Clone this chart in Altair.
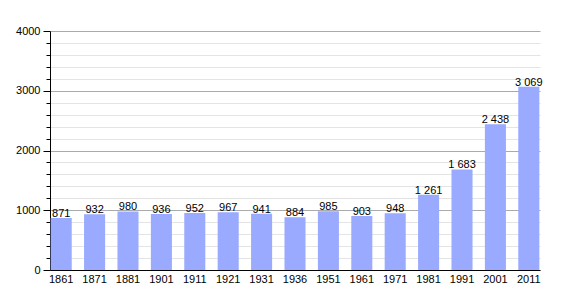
import altair as alt
import pandas as pd

years = ["1861", "1871", "1881", "1901", "1911", "1921", "1931", "1936",
         "1951", "1961", "1971", "1981", "1991", "2001", "2011"]
population = [871, 932, 980, 936, 952, 967, 941, 884, 985, 903, 948,
              1261, 1683, 2438, 3069]
tick_values = list(range(0, 4001, 200))

df = pd.DataFrame({"year": years, "pop": population})

font = "Liberation Sans"

x_enc = alt.X("year:N", sort=years, title=None,
              scale=alt.Scale(paddingInner=0.37, paddingOuter=0.02),
              axis=alt.Axis(labelAngle=0, ticks=False, domainColor="#000000",
                            labelColor="#000000", labelFont=font, labelFontSize=11,
                            labelPadding=3))
y_enc = alt.Y("pop:Q", scale=alt.Scale(domain=[0, 4000], nice=False), title=None,
              axis=alt.Axis(values=tick_values, labelOverlap=False, tickCount=40,
                            labelExpr="datum.value % 1000 == 0 ? datum.value : ''",
                            gridColor={"expr": "datum.value % 1000 == 0 ? '#aaaaaa' : '#e4e4e4'"},
                            tickSize={"expr": "datum.value % 1000 == 0 ? 7 : 4"},
                            tickColor="#000000", domainColor="#000000",
                            labelColor="#000000", labelFont=font, labelFontSize=11,
                            labelPadding=3))

base = alt.Chart(df).transform_calculate(
    lab="replace(format(datum.pop, ','), ',', ' ')"
).encode(x=x_enc, y=y_enc)

bars = base.mark_bar(color="#99aaff")
labels = base.mark_text(baseline="bottom", dy=1, font=font, fontSize=11,
                        color="#000000").encode(text="lab:N")

chart = alt.layer(bars, labels).properties(
    width=490, height=239,
    padding={"left": 50, "top": 31, "right": 30, "bottom": 30},
    autosize=alt.AutoSizeParams(type="none"),
    background="white",
).configure_view(stroke=None).configure_axis(gridWidth=1)

chart.save("out.html", embed_options={"renderer": "svg", "actions": False})
